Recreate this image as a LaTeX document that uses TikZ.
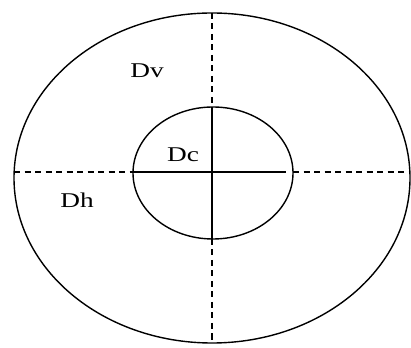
\documentclass[tikz,border=0pt]{standalone}
\usepackage{fontspec}
\setmainfont{Liberation Serif}
\tikzset{
  raya/.style={dash pattern=on 6pt off 4.5pt},
  letrero/.style={font=\fontsize{21}{25}\selectfont, xscale=1.3, transform shape, inner sep=0pt},
}
\begin{document}
\begin{tikzpicture}[x=1pt, y=1pt, line width=1.4pt, line cap=butt]
  \useasboundingbox (0,0) rectangle (411,347);
  % la elipse de fuera y el círculo de dentro
  \draw (212,169) ellipse [x radius=198, y radius=165];
  \draw (213,174) ellipse [x radius=80, y radius=66];
  % los puntos donde se cortan las rayas
  \coordinate (oeste) at (14,175);
  \coordinate (este) at (410,175);
  \coordinate (norte) at (212,334);
  \coordinate (sur) at (212,4);
  \coordinate (cOeste) at (133,175);
  \coordinate (cEste) at (293,175);
  \coordinate (cFin) at (286,175);
  \coordinate (cNorte) at (212,240);
  \coordinate (cSur) at (212,108);
  % las rayas de fuera, a trazos
  \draw[raya] (oeste) -- (cOeste);
  \draw[raya] (cEste) -- (este);
  \draw[raya] (norte) -- (cNorte);
  \draw[raya] (cSur) -- (sur);
  % la cruz de dentro
  \draw (cOeste) -- (cFin);
  \draw (cNorte) -- (cSur);
  % los nombres
  \node[letrero] (dv) at (147,276) {Dv};
  \node[letrero] (dc) at (183,192) {Dc};
  \node[letrero] (dh) at (77,147) {Dh};
\end{tikzpicture}
\end{document}
